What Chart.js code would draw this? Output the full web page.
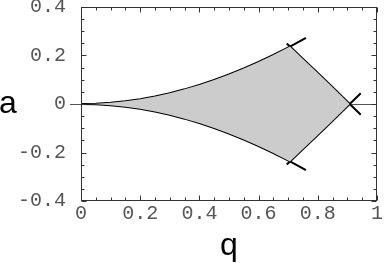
<!DOCTYPE html>
<html>
<head>
<meta charset="utf-8">
<script src="https://cdn.jsdelivr.net/npm/chart.js@4.4.1/dist/chart.umd.min.js"></script>
<style>
html,body{margin:0;padding:0;background:#fff;}
canvas{display:block;}
</style>
</head>
<body>
<canvas id="c" width="385" height="263"></canvas>
<script>
// q values along the lower-left boundary curves
const qCurve = [0, 0.05, 0.1, 0.15, 0.2, 0.25, 0.3, 0.35, 0.4, 0.45, 0.5, 0.55, 0.6, 0.65, 0.706, 0.76];
const aCurve = [0, 0.00125, 0.004995, 0.01122, 0.01991, 0.03104, 0.04457, 0.06045, 0.07865, 0.09911, 0.12176, 0.14657, 0.17344, 0.20232, 0.23697, 0.27258];
// q values along the right-hand boundary lines
const qRight = [0.695, 0.706, 0.75, 0.8, 0.85, 0.9, 0.908, 0.945];
const aRight = [0.24967, 0.23698, 0.18600, 0.12764, 0.06881, 0.00954, 0.0, -0.04418];
// shaded stable region: upper edge
const qFill = [0, 0.05, 0.1, 0.15, 0.2, 0.25, 0.3, 0.35, 0.4, 0.45, 0.5, 0.55, 0.6, 0.65, 0.706, 0.75, 0.8, 0.85, 0.9, 0.908];
const aFill = [0, 0.00125, 0.004995, 0.01122, 0.01991, 0.03104, 0.04457, 0.06045, 0.07865, 0.09911, 0.12176, 0.14657, 0.17344, 0.20232, 0.23697, 0.18600, 0.12764, 0.06881, 0.00954, 0.0];
const xTicks = [0, 0.2, 0.4, 0.6, 0.8, 1];
const yTicks = [-0.4, -0.2, 0, 0.2, 0.4];

const pts = (xs, ys, s) => xs.map((x, i) => ({x: x, y: s * ys[i]}));
const fmt = v => String(Math.round(v * 10) / 10);

const FILL = '#cccccc';
const tickFont = {family: '"Liberation Mono", "Courier New", monospace', size: 20};

const framePlugin = {
  id: 'frame',
  beforeDatasetsDraw(chart) {
    const {ctx, chartArea: ca, scales: {x, y}} = chart;
    ctx.save();
    ctx.strokeStyle = '#555';
    ctx.lineWidth = 1;
    const y0 = Math.round(y.getPixelForValue(0)) + 0.5;
    ctx.beginPath();
    ctx.moveTo(70, y0);
    ctx.lineTo(ca.right, y0);
    ctx.stroke();
    ctx.restore();
  },
  afterDatasetsDraw(chart) {
    const {ctx, chartArea: ca, scales: {x, y}} = chart;
    ctx.save();
    ctx.strokeStyle = '#333';
    ctx.lineWidth = 1;
    const L = Math.round(ca.left) + 0.5, R = Math.round(ca.right) - 0.5;
    const T = Math.round(ca.top) + 0.5, B = Math.round(ca.bottom) - 0.5;
    ctx.strokeRect(L, T, R - L, B - T);
    ctx.beginPath();
    for (let i = 0; i <= 20; i++) {
      const v = i * 0.05;
      const len = (i % 4 === 0) ? 5 : 3;
      const px = Math.round(x.getPixelForValue(v)) + 0.5;
      ctx.moveTo(px, B); ctx.lineTo(px, B - len);
      ctx.moveTo(px, T); ctx.lineTo(px, T + len);
    }
    for (let i = 0; i <= 16; i++) {
      const v = -0.4 + i * 0.05;
      const len = (i % 4 === 0) ? 5 : 3;
      const py = Math.round(y.getPixelForValue(v)) + 0.5;
      ctx.moveTo(L, py); ctx.lineTo(L + len, py);
      ctx.moveTo(R, py); ctx.lineTo(R - len, py);
    }
    ctx.stroke();
    ctx.fillStyle = '#000';
    ctx.font = '32px "Liberation Sans", Arial, sans-serif';
    ctx.textBaseline = 'alphabetic';
    ctx.textAlign = 'left';
    ctx.fillText('a', -1, 113);
    ctx.textAlign = 'center';
    ctx.fillText('q', (ca.left + ca.right) / 2, 255);
    ctx.restore();
  }
};

new Chart(document.getElementById('c'), {
  type: 'scatter',
  data: {
    datasets: [
      {data: pts(qFill, aFill, 1), showLine: true, borderWidth: 0, borderColor: 'rgba(0,0,0,0)', backgroundColor: FILL, fill: 'origin', pointRadius: 0, tension: 0},
      {data: pts(qFill, aFill, -1), showLine: true, borderWidth: 0, borderColor: 'rgba(0,0,0,0)', backgroundColor: FILL, fill: 'origin', pointRadius: 0, tension: 0},
      {data: pts(qCurve, aCurve, 1), showLine: true, borderColor: '#000', borderWidth: 2, pointRadius: 0, fill: false, tension: 0},
      {data: pts(qCurve, aCurve, -1), showLine: true, borderColor: '#000', borderWidth: 2, pointRadius: 0, fill: false, tension: 0},
      {data: pts(qRight, aRight, 1), showLine: true, borderColor: '#000', borderWidth: 2, pointRadius: 0, fill: false, tension: 0},
      {data: pts(qRight, aRight, -1), showLine: true, borderColor: '#000', borderWidth: 2, pointRadius: 0, fill: false, tension: 0}
    ]
  },
  options: {
    responsive: false,
    animation: false,
    devicePixelRatio: 1,
    layout: {padding: {left: 0, right: 8, top: 7, bottom: 0}},
    plugins: {legend: {display: false}, tooltip: {enabled: false}},
    scales: {
      x: {
        type: 'linear', min: 0, max: 1,
        grid: {display: false, drawTicks: false},
        border: {display: false},
        afterBuildTicks: s => { s.ticks = xTicks.map(v => ({value: v})); },
        ticks: {font: tickFont, color: '#555', padding: 1, maxRotation: 0, autoSkip: false, callback: fmt},
        afterFit: s => { s.height = 62; s.paddingLeft = 0; s.paddingRight = 0; }
      },
      y: {
        type: 'linear', min: -0.4, max: 0.4,
        grid: {display: false, drawTicks: false},
        border: {display: false},
        afterBuildTicks: s => { s.ticks = yTicks.map(v => ({value: v})); },
        ticks: {font: tickFont, color: '#555', padding: 15, autoSkip: false, callback: fmt},
        afterFit: s => { s.width = 81; s.paddingTop = 0; s.paddingBottom = 0; }
      }
    }
  },
  plugins: [framePlugin]
});
</script>
</body>
</html>
